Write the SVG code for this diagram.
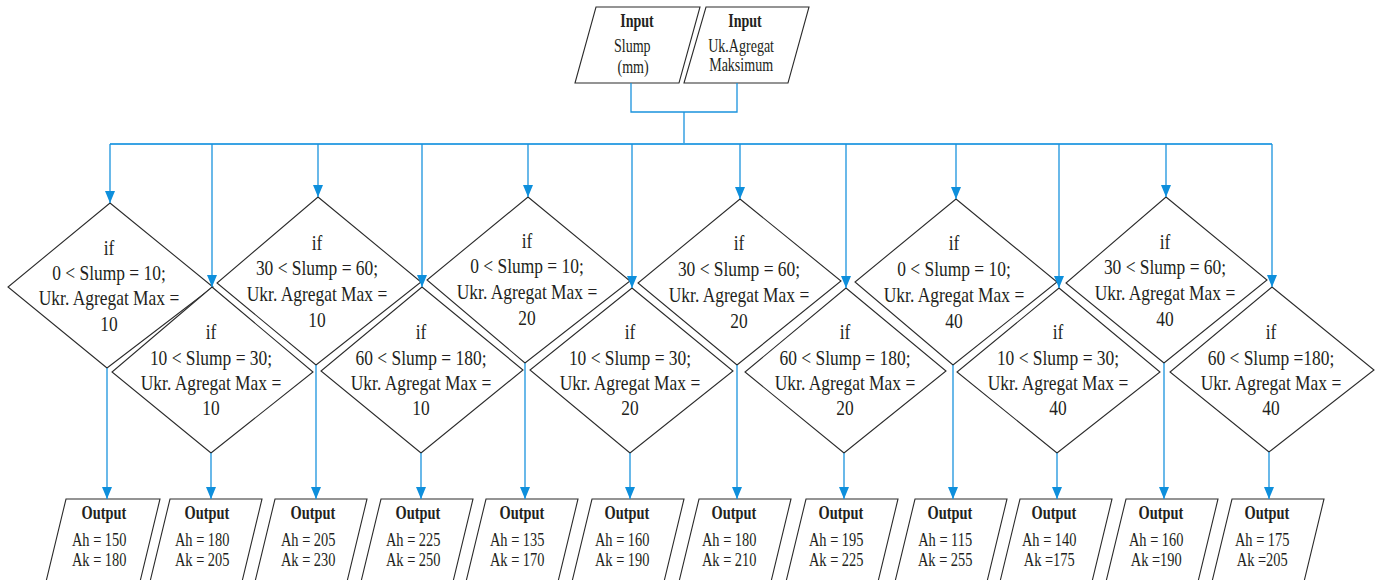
<svg xmlns="http://www.w3.org/2000/svg" width="1378" height="580" viewBox="0 0 1378 580">
  <style>
    .shape { fill: #ffffff; stroke: #2b2b2b; stroke-width: 1.1; }
    .wire { fill: none; stroke: #1a93dd; stroke-width: 1.3; }
    .bus { fill: none; stroke: #3aa3e4; stroke-width: 2; }
    text { font-family: "Liberation Serif", "Times New Roman", "DejaVu Serif", serif; fill: #231f20; text-anchor: middle; }
    .dt { font-size: 21px; }
    .ot { font-size: 18px; }
    .b { font-weight: bold; }
  </style>
  <defs>
    <marker id="arrow" markerUnits="userSpaceOnUse" viewBox="0 0 12 10" markerWidth="12" markerHeight="10" refX="12" refY="5" orient="auto">
      <path d="M0,0 L12,5 L0,10 z" fill="#0e8fdc"/>
    </marker>
  </defs>

  <!-- inputs -->
  <g id="input-slump">
    <polygon class="shape" points="596,7 700,7 679,83 575,83"/>
    <text class="ot" transform="translate(637 0) scale(0.78 1)"><tspan class="b" x="0" y="27">Input</tspan><tspan x="-6" y="52">Slump</tspan><tspan x="-5" y="73">(mm)</tspan></text>
  </g>
  <g id="input-agregat">
    <polygon class="shape" points="706,7 809,7 788,83 684,83"/>
    <text class="ot" transform="translate(745 0) scale(0.78 1)"><tspan class="b" x="0" y="27">Input</tspan><tspan x="-5" y="52">Uk.Agregat</tspan><tspan x="-5" y="71">Maksimum</tspan></text>
  </g>

  <!-- decision diamonds, upper row -->
  <g id="d1">
    <polygon class="shape" points="110,203 213,287 107,368 8,287"/>
    <text class="dt" transform="translate(109 0) scale(0.83 1)"><tspan x="0" y="255">if</tspan><tspan x="0" y="280">0 &lt; Slump = 10;</tspan><tspan x="0" y="305">Ukr. Agregat Max =</tspan><tspan x="0" y="331">10</tspan></text>
  </g>
  <g id="d3">
    <polygon class="shape" points="318,197 421,282 316,365 217,283"/>
    <text class="dt" transform="translate(317 0) scale(0.83 1)"><tspan x="0" y="250">if</tspan><tspan x="0" y="275">30 &lt; Slump = 60;</tspan><tspan x="0" y="301">Ukr. Agregat Max =</tspan><tspan x="0" y="327">10</tspan></text>
  </g>
  <g id="d5">
    <polygon class="shape" points="528,197 630,281 525,363 427,280"/>
    <text class="dt" transform="translate(527 0) scale(0.83 1)"><tspan x="0" y="248">if</tspan><tspan x="0" y="273">0 &lt; Slump = 10;</tspan><tspan x="0" y="299">Ukr. Agregat Max =</tspan><tspan x="0" y="325">20</tspan></text>
  </g>
  <g id="d7">
    <polygon class="shape" points="740,199 841,281 737,365 638,283"/>
    <text class="dt" transform="translate(739 0) scale(0.83 1)"><tspan x="0" y="250">if</tspan><tspan x="0" y="276">30 &lt; Slump = 60;</tspan><tspan x="0" y="302">Ukr. Agregat Max =</tspan><tspan x="0" y="328">20</tspan></text>
  </g>
  <g id="d9">
    <polygon class="shape" points="956,199 1057,282 953,365 855,282"/>
    <text class="dt" transform="translate(954 0) scale(0.83 1)"><tspan x="0" y="250">if</tspan><tspan x="0" y="276">0 &lt; Slump = 10;</tspan><tspan x="0" y="302">Ukr. Agregat Max =</tspan><tspan x="0" y="328">40</tspan></text>
  </g>
  <g id="d11">
    <polygon class="shape" points="1166,197 1267,280 1164,363 1066,283"/>
    <text class="dt" transform="translate(1165 0) scale(0.83 1)"><tspan x="0" y="249">if</tspan><tspan x="0" y="274">30 &lt; Slump = 60;</tspan><tspan x="0" y="300">Ukr. Agregat Max =</tspan><tspan x="0" y="326">40</tspan></text>
  </g>

  <!-- decision diamonds, lower row -->
  <g id="d2">
    <polygon class="shape" points="212,287 313,372 211,453 112,372"/>
    <text class="dt" transform="translate(211 0) scale(0.83 1)"><tspan x="0" y="339">if</tspan><tspan x="0" y="365">10 &lt; Slump = 30;</tspan><tspan x="0" y="390">Ukr. Agregat Max =</tspan><tspan x="0" y="415">10</tspan></text>
  </g>
  <g id="d4">
    <polygon class="shape" points="422,287 523,370 421,453 321,371"/>
    <text class="dt" transform="translate(421 0) scale(0.83 1)"><tspan x="0" y="339">if</tspan><tspan x="0" y="365">60 &lt; Slump = 180;</tspan><tspan x="0" y="390">Ukr. Agregat Max =</tspan><tspan x="0" y="415">10</tspan></text>
  </g>
  <g id="d6">
    <polygon class="shape" points="632,288 733,371 630,453 530,370"/>
    <text class="dt" transform="translate(630 0) scale(0.83 1)"><tspan x="0" y="339">if</tspan><tspan x="0" y="365">10 &lt; Slump = 30;</tspan><tspan x="0" y="390">Ukr. Agregat Max =</tspan><tspan x="0" y="415">20</tspan></text>
  </g>
  <g id="d8">
    <polygon class="shape" points="846,288 946,371 844,453 745,372"/>
    <text class="dt" transform="translate(845 0) scale(0.83 1)"><tspan x="0" y="339">if</tspan><tspan x="0" y="365">60 &lt; Slump = 180;</tspan><tspan x="0" y="390">Ukr. Agregat Max =</tspan><tspan x="0" y="415">20</tspan></text>
  </g>
  <g id="d10">
    <polygon class="shape" points="1059,288 1160,372 1057,453 957,372"/>
    <text class="dt" transform="translate(1058 0) scale(0.83 1)"><tspan x="0" y="339">if</tspan><tspan x="0" y="365">10 &lt; Slump = 30;</tspan><tspan x="0" y="390">Ukr. Agregat Max =</tspan><tspan x="0" y="415">40</tspan></text>
  </g>
  <g id="d12">
    <polygon class="shape" points="1272,287 1374,370 1269,452 1170,372"/>
    <text class="dt" transform="translate(1271 0) scale(0.83 1)"><tspan x="0" y="339">if</tspan><tspan x="0" y="365">60 &lt; Slump =180;</tspan><tspan x="0" y="390">Ukr. Agregat Max =</tspan><tspan x="0" y="415">40</tspan></text>
  </g>

  <!-- outputs (open at the bottom edge) -->
  <g id="o1">
    <polygon class="shape" points="66,499 160,499 138,590 44,590"/>
    <text class="ot" transform="translate(104 0) scale(0.8 1)"><tspan class="b" x="0" y="519">Output</tspan><tspan x="-6" y="546">Ah = 150</tspan><tspan x="-6" y="566">Ak = 180</tspan></text>
  </g>
  <g id="o2">
    <polygon class="shape" points="170,499 262,499 240,590 148,590"/>
    <text class="ot" transform="translate(207 0) scale(0.8 1)"><tspan class="b" x="0" y="519">Output</tspan><tspan x="-6" y="546">Ah = 180</tspan><tspan x="-6" y="566">Ak = 205</tspan></text>
  </g>
  <g id="o3">
    <polygon class="shape" points="275,499 367,499 345,590 253,590"/>
    <text class="ot" transform="translate(313 0) scale(0.8 1)"><tspan class="b" x="0" y="519">Output</tspan><tspan x="-6" y="546">Ah = 205</tspan><tspan x="-6" y="566">Ak = 230</tspan></text>
  </g>
  <g id="o4">
    <polygon class="shape" points="381,499 473,499 451,590 359,590"/>
    <text class="ot" transform="translate(418 0) scale(0.8 1)"><tspan class="b" x="0" y="519">Output</tspan><tspan x="-6" y="546">Ah = 225</tspan><tspan x="-6" y="566">Ak = 250</tspan></text>
  </g>
  <g id="o5">
    <polygon class="shape" points="486,499 578,499 556,590 464,590"/>
    <text class="ot" transform="translate(522 0) scale(0.8 1)"><tspan class="b" x="0" y="519">Output</tspan><tspan x="-6" y="546">Ah = 135</tspan><tspan x="-6" y="566">Ak = 170</tspan></text>
  </g>
  <g id="o6">
    <polygon class="shape" points="592,499 684,499 662,590 570,590"/>
    <text class="ot" transform="translate(627 0) scale(0.8 1)"><tspan class="b" x="0" y="519">Output</tspan><tspan x="-6" y="546">Ah = 160</tspan><tspan x="-6" y="566">Ak = 190</tspan></text>
  </g>
  <g id="o7">
    <polygon class="shape" points="699,499 791,499 769,590 677,590"/>
    <text class="ot" transform="translate(734 0) scale(0.8 1)"><tspan class="b" x="0" y="519">Output</tspan><tspan x="-6" y="546">Ah = 180</tspan><tspan x="-6" y="566">Ak = 210</tspan></text>
  </g>
  <g id="o8">
    <polygon class="shape" points="806,499 898,499 876,590 784,590"/>
    <text class="ot" transform="translate(841 0) scale(0.8 1)"><tspan class="b" x="0" y="519">Output</tspan><tspan x="-6" y="546">Ah = 195</tspan><tspan x="-6" y="566">Ak = 225</tspan></text>
  </g>
  <g id="o9">
    <polygon class="shape" points="915,499 1007,499 985,590 893,590"/>
    <text class="ot" transform="translate(950 0) scale(0.8 1)"><tspan class="b" x="0" y="519">Output</tspan><tspan x="-6" y="546">Ah = 115</tspan><tspan x="-6" y="566">Ak = 255</tspan></text>
  </g>
  <g id="o10">
    <polygon class="shape" points="1020,499 1112,499 1090,590 998,590"/>
    <text class="ot" transform="translate(1054 0) scale(0.8 1)"><tspan class="b" x="0" y="519">Output</tspan><tspan x="-6" y="546">Ah = 140</tspan><tspan x="-6" y="566">Ak =175</tspan></text>
  </g>
  <g id="o11">
    <polygon class="shape" points="1126,499 1218,499 1196,590 1104,590"/>
    <text class="ot" transform="translate(1161 0) scale(0.8 1)"><tspan class="b" x="0" y="519">Output</tspan><tspan x="-6" y="546">Ah = 160</tspan><tspan x="-6" y="566">Ak =190</tspan></text>
  </g>
  <g id="o12">
    <polygon class="shape" points="1232,499 1324,499 1302,590 1210,590"/>
    <text class="ot" transform="translate(1267 0) scale(0.8 1)"><tspan class="b" x="0" y="519">Output</tspan><tspan x="-6" y="546">Ah = 175</tspan><tspan x="-6" y="566">Ak =205</tspan></text>
  </g>

  <!-- connectors -->
  <g id="connectors">
    <path class="wire" d="M631,83 V112 H737 V83 M684,112 V144"/>
    <path class="bus" d="M110,144 H1272"/>
    <!-- bus to upper diamonds -->
    <path class="wire" marker-end="url(#arrow)" d="M110,144 V203"/>
    <path class="wire" marker-end="url(#arrow)" d="M318,144 V197"/>
    <path class="wire" marker-end="url(#arrow)" d="M528,144 V197"/>
    <path class="wire" marker-end="url(#arrow)" d="M740,144 V199"/>
    <path class="wire" marker-end="url(#arrow)" d="M956,144 V199"/>
    <path class="wire" marker-end="url(#arrow)" d="M1166,144 V197"/>
    <!-- bus to lower diamonds -->
    <path class="wire" marker-end="url(#arrow)" d="M212,144 V287"/>
    <path class="wire" marker-end="url(#arrow)" d="M422,144 V287"/>
    <path class="wire" marker-end="url(#arrow)" d="M632,144 V288"/>
    <path class="wire" marker-end="url(#arrow)" d="M846,144 V288"/>
    <path class="wire" marker-end="url(#arrow)" d="M1059,144 V288"/>
    <path class="wire" marker-end="url(#arrow)" d="M1272,144 V287"/>
    <!-- diamonds to outputs -->
    <path class="wire" marker-end="url(#arrow)" d="M107,368 V499"/>
    <path class="wire" marker-end="url(#arrow)" d="M211,453 V499"/>
    <path class="wire" marker-end="url(#arrow)" d="M316,365 V499"/>
    <path class="wire" marker-end="url(#arrow)" d="M421,453 V499"/>
    <path class="wire" marker-end="url(#arrow)" d="M525,363 V499"/>
    <path class="wire" marker-end="url(#arrow)" d="M630,453 V499"/>
    <path class="wire" marker-end="url(#arrow)" d="M737,365 V499"/>
    <path class="wire" marker-end="url(#arrow)" d="M844,453 V499"/>
    <path class="wire" marker-end="url(#arrow)" d="M953,365 V499"/>
    <path class="wire" marker-end="url(#arrow)" d="M1057,453 V499"/>
    <path class="wire" marker-end="url(#arrow)" d="M1164,363 V499"/>
    <path class="wire" marker-end="url(#arrow)" d="M1269,452 V499"/>
  </g>
</svg>
